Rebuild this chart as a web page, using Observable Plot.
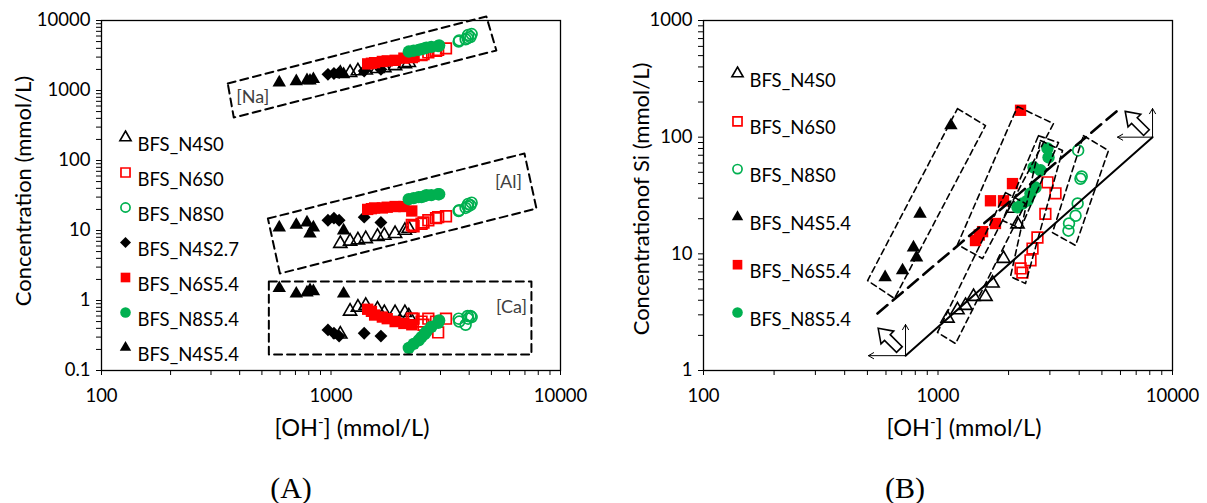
<!DOCTYPE html>
<html><head><meta charset="utf-8">
<script src="https://cdn.jsdelivr.net/npm/d3@7"></script>
<script src="https://cdn.jsdelivr.net/npm/@observablehq/plot@0.6"></script>
<style>
body{margin:0;background:#fff;}
#wrap{position:relative;width:1207px;height:503px;overflow:hidden;font-family:Lato,"Open Sans",sans-serif;color:#000;}
.panel{position:absolute;top:0;}
.panel svg{overflow:visible;}
.yt{position:absolute;white-space:nowrap;font-size:22px;transform:translate(-50%,-50%) rotate(-90deg);}
.xt{position:absolute;white-space:nowrap;font-size:23.5px;transform:translate(-50%,-50%);}
.xt sup{font-size:0.65em;line-height:0;}
.pl{position:absolute;white-space:nowrap;font-family:"Liberation Serif","Times New Roman",serif;font-size:30px;transform:translate(-50%,-50%);}
</style></head><body>
<div id="wrap">
  <div class="panel" id="pA" style="left:0"></div>
  <div class="panel" id="pB" style="left:600px"></div>
  <div class="yt" style="left:22px;top:191px">Concentration (mmol/L)</div>
  <div class="yt" style="left:640px;top:199px">Concentrationof Si (mmol/L)</div>
  <div class="xt" style="left:352px;top:427px">[OH<sup>-</sup>] (mmol/L)</div>
  <div class="xt" style="left:964px;top:427px">[OH<sup>-</sup>] (mmol/L)</div>
  <div class="pl" style="left:291px;top:488px">(A)</div>
  <div class="pl" style="left:905px;top:488px">(B)</div>
</div>
<script>
// ---------- axes ----------
const xDomain = [100, 10000];
const yDomainA = [0.1, 10000];
const yDomainB = [1, 1000];
const xTickLabels = ["100", "1000", "10000"];
const yTickLabelsA = ["0.1", "1", "10", "100", "1000", "10000"];
const yTickLabelsB = ["1", "10", "100", "1000"];

// ---------- series ----------
const seriesA = ["BFS_N4S0", "BFS_N6S0", "BFS_N8S0", "BFS_N4S2.7", "BFS_N6S5.4", "BFS_N8S5.4", "BFS_N4S5.4"];
const seriesB = ["BFS_N4S0", "BFS_N6S0", "BFS_N8S0", "BFS_N4S5.4", "BFS_N6S5.4", "BFS_N8S5.4"];

// [OH-] (mmol/L) per sample
const ohN4S0   = [1098, 1211, 1310, 1417, 1594, 1708, 1902, 2099, 2183];
const ohN6S0   = [2250, 2290, 2480, 2530, 2655, 2870, 2930, 3170];
const ohN8S0   = [3600, 3620, 3860, 3940, 3960, 4050, 4100];
const ohN4S27  = [970, 1030, 1085, 1395, 1650];
const ohN6S54  = [1445, 1500, 1549, 1674, 1758, 1903, 2078, 2249];
const ohN8S54  = [2183, 2293, 2409, 2479, 2555, 2605, 2736, 2930, 2960];
const ohN4S54  = [595, 706, 786, 810, 838, 1135];

// Na (mmol/L)
const naN4S0  = [1750, 1800, 1900, 1950, 2050, 2100, 2250, 2400, 2500];
const naN6S0  = [3000, 3100, 3200, 3300, 3500, 3700, 3800, 4000];
const naN8S0  = [5000, 5200, 5400, 5600, 6200, 5800, 6400];
const naN4S27 = [1700, 1750, 1800, 1900, 2000];
const naN6S54 = [2400, 2450, 2500, 2600, 2650, 2700, 2900, 3100];
const naN8S54 = [3600, 3700, 3800, 3900, 4000, 4100, 4200, 4300, 4400];
const naN4S54 = [1300, 1350, 1400, 1380, 1450, 1700];

// Al (mmol/L)
const alN4S0  = [6.5, 7.0, 7.3, 7.6, 8.2, 8.5, 9.0, 10.0, 10.7];
const alN6S0  = [12, 11.5, 12.5, 13, 14, 15, 15.5, 16];
const alN8S0  = [19, 19.5, 21, 22, 24, 23, 25];
const alN4S27 = [14, 15, 14, 15.5, 13];
const alN6S54 = [20, 20.5, 21, 21, 21.5, 22, 22, 19];
const alN8S54 = [28, 29, 30, 30, 31, 32, 32, 33, 33];
const alN4S54 = [11, 12, 13, 9, 11, 10];

// Ca (mmol/L)
const caN4S0  = [0.33, 0.7, 0.8, 0.85, 0.75, 0.67, 0.67, 0.67, 0.6];
const caN6S0  = [0.55, 0.55, 0.5, 0.45, 0.55, 0.5, 0.35, 0.55];
const caN8S0  = [0.55, 0.5, 0.45, 0.6, 0.55, 0.6, 0.58];
const caN4S27 = [0.38, 0.34, 0.31, 0.34, 0.31];
const caN6S54 = [0.75, 0.7, 0.62, 0.58, 0.55, 0.5, 0.47, 0.45];
const caN8S54 = [0.21, 0.24, 0.27, 0.3, 0.33, 0.36, 0.42, 0.48, 0.52];
const caN4S54 = [1.5, 1.25, 1.3, 1.4, 1.35, 1.25];

// Si (mmol/L)
const siN4S0  = [2.8, 3.3, 3.6, 4.3, 4.3, 5.6, 9.1, 24.5, 18];
const siN6S0  = [7.5, 6.9, 8.8, 11.1, 13.8, 22, 41, 33];
const siN8S0  = [15.8, 18.2, 21.2, 27, 77, 44, 46];
const siN6S54 = [13, 14.5, 15.5, 28.5, 18.2, 28.5, 40, 170];
const siN8S54 = [25, 27, 28.6, 32.9, 55, 37, 52, 80, 67];
const siN4S54 = [6.3, 7.2, 11.3, 9.3, 22, 126];

// ---------- annotations (data units) ----------
const regionLabels = ["[Na]", "[Al]", "[Ca]"];
const regionLabelAt = [[456, 794], [5930, 48.5], [6110, 0.79]];
const boxNa = [[355, 1259], [4753, 11406], [5254, 3728], [377, 411], [355, 1259]];
const boxAl = [[531, 14.8], [6965, 126], [7856, 20.6], [599, 2.43], [531, 14.8]];
const boxCa = [[536, 1.87], [7470, 1.87], [7470, 0.169], [536, 0.169], [536, 1.87]];

const boxB_N4S54 = [[1211, 175.8], [1594, 125.7], [652, 4.14], [501, 5.9], [1211, 175.8]];
const boxB_N6S54 = [[2183, 182.9], [3108, 130.8], [1548, 9.11], [1211, 12.0], [2183, 182.9]];
const boxB_N8S54 = [[2683, 103], [3265, 89.9], [2249, 16.5], [1884, 19.3], [2683, 103]];
const boxB_N4S0  = [[1941, 33.5], [2361, 27.0], [1188, 1.70], [995, 2.12], [1941, 33.5]];
const boxB_N6S0  = [[2736, 93.5], [3396, 76.8], [2361, 5.57], [2038, 6.39], [2736, 93.5]];
const boxB_N8S0  = [[4173, 103], [5334, 76.8], [3859, 11.8], [3077, 15.2], [4173, 103]];
const lineS54 = [[552, 3.08], [5823, 169]];
const lineS0  = [[727, 1.34], [8220, 100]];
const arrowsB = [
  {x1: 727, y1: 1.34, x2: 505, y2: 1.34}, {x1: 727, y1: 1.34, x2: 727, y2: 2.48},
  {x1: 8220, y1: 100, x2: 5828, y2: 100}, {x1: 8220, y1: 100, x2: 8220, y2: 176}
];
const hollowArrowAt = [[621, 1.84], [7024, 133]];

// ---------- assemble ----------
const dataBySeries = {
  "BFS_N4S0":   {oh: ohN4S0,  na: naN4S0,  al: alN4S0,  ca: caN4S0,  si: siN4S0},
  "BFS_N6S0":   {oh: ohN6S0,  na: naN6S0,  al: alN6S0,  ca: caN6S0,  si: siN6S0},
  "BFS_N8S0":   {oh: ohN8S0,  na: naN8S0,  al: alN8S0,  ca: caN8S0,  si: siN8S0},
  "BFS_N4S2.7": {oh: ohN4S27, na: naN4S27, al: alN4S27, ca: caN4S27},
  "BFS_N6S5.4": {oh: ohN6S54, na: naN6S54, al: alN6S54, ca: caN6S54, si: siN6S54},
  "BFS_N8S5.4": {oh: ohN8S54, na: naN8S54, al: alN8S54, ca: caN8S54, si: siN8S54},
  "BFS_N4S5.4": {oh: ohN4S54, na: naN4S54, al: alN4S54, ca: caN4S54, si: siN4S54}
};
const RED = "#FF0000", GREEN = "#00B050";
const styles = {
  "BFS_N4S0":   {symbol: "triangle", fill: "none", stroke: "#000", strokeWidth: 1.6, r: 4.9},
  "BFS_N6S0":   {symbol: "square", fill: "none", stroke: RED, strokeWidth: 1.7, r: 6.0},
  "BFS_N8S0":   {symbol: "circle", fill: "none", stroke: GREEN, strokeWidth: 1.7, r: 5.4},
  "BFS_N4S2.7": {symbol: "diamond2", fill: "#000", stroke: "none", r: 5.8},
  "BFS_N6S5.4": {symbol: "square", fill: RED, stroke: "none", r: 6.4},
  "BFS_N8S5.4": {symbol: "circle", fill: GREEN, stroke: "none", r: 6.2},
  "BFS_N4S5.4": {symbol: "triangle", fill: "#000", stroke: "none", r: 5.0}
};
const legendStyle = s => ({...styles[s], r: styles[s].r * 0.85});

const hollowArrow = {
  draw(ctx) {
    const pts = [[0, -16], [9, -3], [4, -3], [4, 14], [-4, 14], [-4, -3], [-9, -3]];
    const c = Math.SQRT1_2;
    pts.forEach(([x, y], i) => {
      const X = c * x + c * y, Y = -c * x + c * y;
      i ? ctx.lineTo(X, Y) : ctx.moveTo(X, Y);
    });
    ctx.closePath();
  }
};

function minorTicks([lo, hi]) {
  const out = [];
  for (let e = Math.round(Math.log10(lo)); e < Math.round(Math.log10(hi)); e++)
    for (let k = 2; k <= 9; k++) out.push(k * Math.pow(10, e));
  return out;
}

function axes(yDomain, yLabels) {
  const xMajor = xTickLabels.map(Number), yMajor = yLabels.map(Number);
  const xFmt = new Map(xMajor.map((v, i) => [v, xTickLabels[i]]));
  const yFmt = new Map(yMajor.map((v, i) => [v, yLabels[i]]));
  return [
    Plot.axisX(minorTicks(xDomain), {anchor: "bottom", tickSize: 5, text: null, label: null}),
    Plot.axisX(xMajor, {anchor: "bottom", tickSize: 5, tickPadding: 13, tickFormat: d => xFmt.get(d), label: null}),
    Plot.axisY(minorTicks(yDomain), {anchor: "left", tickSize: 5, text: null, label: null}),
    Plot.axisY(yMajor, {anchor: "left", tickSize: 5, tickPadding: 6, tickFormat: d => yFmt.get(d), label: null})
  ];
}

function seriesDots(names, key) {
  return names.map(s => {
    const d = dataBySeries[s];
    const pts = d.oh.map((oh, i) => ({oh, v: d[key][i]}));
    return Plot.dot(pts, {x: "oh", y: "v", ...styles[s]});
  });
}

function legend(names, dx, dy0, step) {
  return names.flatMap((s, i) => [
    Plot.dot([s], {frameAnchor: "top-left", dx, dy: dy0 + i * step, ...legendStyle(s)}),
    Plot.text([s], {frameAnchor: "top-left", text: d => d, dx: dx + 12, dy: dy0 + i * step, textAnchor: "start", fontSize: 18.5, fill: "#000"})
  ]);
}

const dashBox = (pts, w, dash) => Plot.line(pts, {x: d => d[0], y: d => d[1], stroke: "#000", strokeWidth: w, strokeDasharray: dash});

const common = {
  height: 440, marginTop: 20, marginBottom: 70,
  x: {type: "log", domain: xDomain, label: null},
  style: {fontFamily: "Lato, 'Open Sans', sans-serif", fontSize: "18.5px", color: "#000", background: "transparent", overflow: "visible"}
};

const plotA = Plot.plot({
  ...common, width: 600, marginLeft: 101, marginRight: 40,
  y: {type: "log", domain: yDomainA, label: null},
  marks: [
    ...axes(yDomainA, yTickLabelsA),
    ...["na", "al", "ca"].flatMap(k => seriesDots(seriesA, k)),
    dashBox(boxNa, 2, "8,5"), dashBox(boxAl, 2, "8,5"), dashBox(boxCa, 2, "8,5"),
    Plot.text(regionLabels, {x: (d, i) => regionLabelAt[i][0], y: (d, i) => regionLabelAt[i][1], text: d => d, fontSize: 18, fill: "#404040"}),
    ...legend(seriesA, 24, 117, 35),
    Plot.frame({stroke: "#000", strokeWidth: 1.3})
  ]
});

const plotB = Plot.plot({
  ...common, width: 607, marginLeft: 103, marginRight: 35,
  y: {type: "log", domain: yDomainB, label: null},
  marks: [
    ...axes(yDomainB, yTickLabelsB),
    ...seriesDots(seriesB, "si"),
    ...[boxB_N4S54, boxB_N6S54, boxB_N8S54, boxB_N4S0, boxB_N6S0, boxB_N8S0].map(b => dashBox(b, 1.6, "6,4")),
    dashBox(lineS54, 2.6, "13,7"),
    Plot.line(lineS0, {x: d => d[0], y: d => d[1], stroke: "#000", strokeWidth: 2}),
    Plot.arrow(arrowsB, {x1: "x1", y1: "y1", x2: "x2", y2: "y2", stroke: "#000", strokeWidth: 1, headLength: 9}),
    Plot.dot(hollowArrowAt, {x: d => d[0], y: d => d[1], symbol: hollowArrow, fill: "white", stroke: "#000", strokeWidth: 1.6}),
    ...legend(seriesB, 34, 53, 47.8),
    Plot.frame({stroke: "#000", strokeWidth: 1.3})
  ]
});

document.getElementById("pA").appendChild(plotA);
document.getElementById("pB").appendChild(plotB);
</script>
</body></html>
